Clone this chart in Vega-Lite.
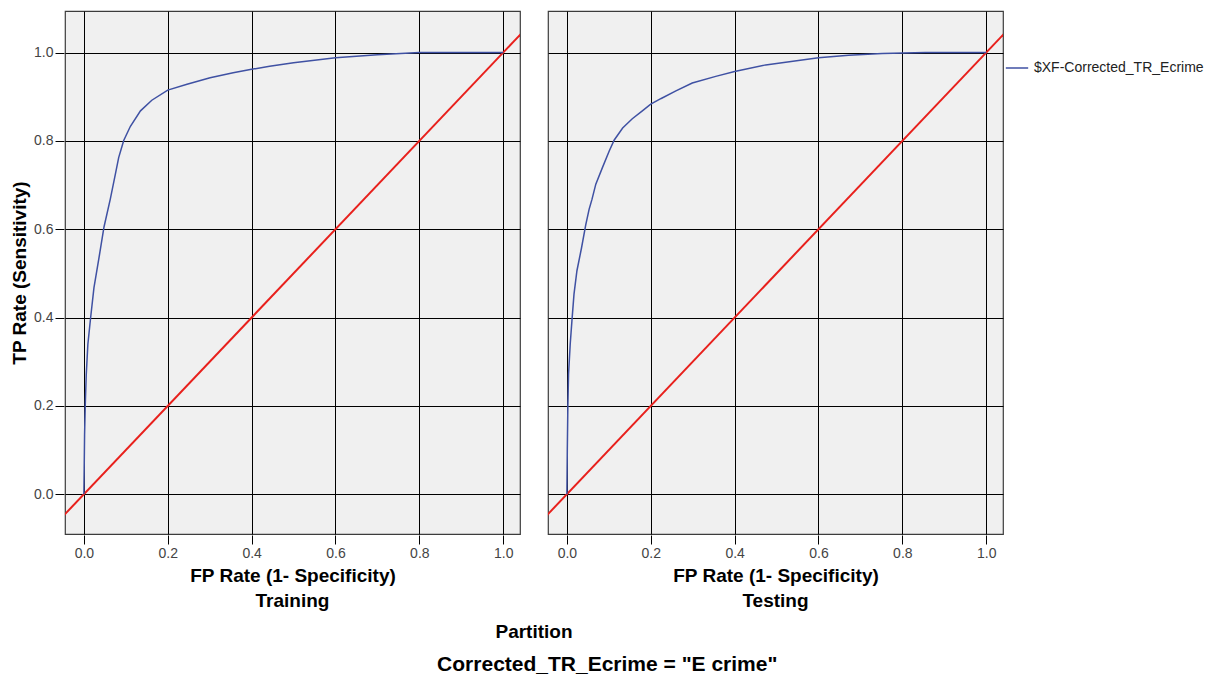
{
  "$schema": "https://vega.github.io/schema/vega-lite/v6.json",
  "padding": {"left": 10, "top": 10, "right": 5, "bottom": 5},
  "background": "white",
  "config": {
    "font": "Liberation Sans",
    "view": {"fill": "#f0f0f0", "stroke": "#3c3c3c", "strokeWidth": 1.2},
    "axis": {
      "labelFont": "Liberation Sans", "labelFontSize": 14, "labelColor": "#444444",
      "titleFont": "Liberation Sans", "titleFontSize": 19, "titleFontWeight": "bold", "titleColor": "#000000",
      "gridColor": "#000000", "gridOpacity": 1, "gridWidth": 1,
      "tickColor": "#000000", "tickSize": 9, "tickWidth": 1,
      "domain": false, "labelPadding": 2
    },
    "header": {
      "labelFont": "Liberation Sans", "labelFontSize": 19, "labelFontWeight": "bold", "labelColor": "#000000",
      "titleFont": "Liberation Sans", "titleFontSize": 19, "titleFontWeight": "bold", "titleColor": "#000000"
    },
    "legend": {"labelFont": "Liberation Sans", "labelFontSize": 14, "labelColor": "#222222", "labelLimit": 0}
  },
  "title": {
    "text": "Corrected_TR_Ecrime = \"E crime\"",
    "orient": "bottom", "anchor": "middle",
    "font": "Liberation Sans", "fontSize": 21, "fontWeight": "bold", "color": "#000000", "offset": 12
  },
  "data": {
    "values": [
      {"partition": "Training", "kind": "roc", "series": "$XF-Corrected_TR_Ecrime", "fpr": 0, "tpr": 0},
      {"partition": "Training", "kind": "roc", "series": "$XF-Corrected_TR_Ecrime", "fpr": 0.0008, "tpr": 0.06},
      {"partition": "Training", "kind": "roc", "series": "$XF-Corrected_TR_Ecrime", "fpr": 0.0017, "tpr": 0.136},
      {"partition": "Training", "kind": "roc", "series": "$XF-Corrected_TR_Ecrime", "fpr": 0.0033, "tpr": 0.201},
      {"partition": "Training", "kind": "roc", "series": "$XF-Corrected_TR_Ecrime", "fpr": 0.0057, "tpr": 0.271},
      {"partition": "Training", "kind": "roc", "series": "$XF-Corrected_TR_Ecrime", "fpr": 0.0095, "tpr": 0.339},
      {"partition": "Training", "kind": "roc", "series": "$XF-Corrected_TR_Ecrime", "fpr": 0.016, "tpr": 0.399},
      {"partition": "Training", "kind": "roc", "series": "$XF-Corrected_TR_Ecrime", "fpr": 0.024, "tpr": 0.467},
      {"partition": "Training", "kind": "roc", "series": "$XF-Corrected_TR_Ecrime", "fpr": 0.036, "tpr": 0.535},
      {"partition": "Training", "kind": "roc", "series": "$XF-Corrected_TR_Ecrime", "fpr": 0.048, "tpr": 0.605},
      {"partition": "Training", "kind": "roc", "series": "$XF-Corrected_TR_Ecrime", "fpr": 0.063, "tpr": 0.668},
      {"partition": "Training", "kind": "roc", "series": "$XF-Corrected_TR_Ecrime", "fpr": 0.075, "tpr": 0.724},
      {"partition": "Training", "kind": "roc", "series": "$XF-Corrected_TR_Ecrime", "fpr": 0.083, "tpr": 0.762},
      {"partition": "Training", "kind": "roc", "series": "$XF-Corrected_TR_Ecrime", "fpr": 0.095, "tpr": 0.801},
      {"partition": "Training", "kind": "roc", "series": "$XF-Corrected_TR_Ecrime", "fpr": 0.111, "tpr": 0.833},
      {"partition": "Training", "kind": "roc", "series": "$XF-Corrected_TR_Ecrime", "fpr": 0.135, "tpr": 0.868},
      {"partition": "Training", "kind": "roc", "series": "$XF-Corrected_TR_Ecrime", "fpr": 0.162, "tpr": 0.892},
      {"partition": "Training", "kind": "roc", "series": "$XF-Corrected_TR_Ecrime", "fpr": 0.2, "tpr": 0.915},
      {"partition": "Training", "kind": "roc", "series": "$XF-Corrected_TR_Ecrime", "fpr": 0.246, "tpr": 0.928},
      {"partition": "Training", "kind": "roc", "series": "$XF-Corrected_TR_Ecrime", "fpr": 0.301, "tpr": 0.943},
      {"partition": "Training", "kind": "roc", "series": "$XF-Corrected_TR_Ecrime", "fpr": 0.356, "tpr": 0.954},
      {"partition": "Training", "kind": "roc", "series": "$XF-Corrected_TR_Ecrime", "fpr": 0.4, "tpr": 0.962},
      {"partition": "Training", "kind": "roc", "series": "$XF-Corrected_TR_Ecrime", "fpr": 0.443, "tpr": 0.969},
      {"partition": "Training", "kind": "roc", "series": "$XF-Corrected_TR_Ecrime", "fpr": 0.5, "tpr": 0.977},
      {"partition": "Training", "kind": "roc", "series": "$XF-Corrected_TR_Ecrime", "fpr": 0.6, "tpr": 0.988},
      {"partition": "Training", "kind": "roc", "series": "$XF-Corrected_TR_Ecrime", "fpr": 0.7, "tpr": 0.995},
      {"partition": "Training", "kind": "roc", "series": "$XF-Corrected_TR_Ecrime", "fpr": 0.8, "tpr": 1.0},
      {"partition": "Training", "kind": "roc", "series": "$XF-Corrected_TR_Ecrime", "fpr": 1.0, "tpr": 1.0},
      {"partition": "Testing", "kind": "roc", "series": "$XF-Corrected_TR_Ecrime", "fpr": 0, "tpr": 0},
      {"partition": "Testing", "kind": "roc", "series": "$XF-Corrected_TR_Ecrime", "fpr": 0.001, "tpr": 0.098},
      {"partition": "Testing", "kind": "roc", "series": "$XF-Corrected_TR_Ecrime", "fpr": 0.0024, "tpr": 0.201},
      {"partition": "Testing", "kind": "roc", "series": "$XF-Corrected_TR_Ecrime", "fpr": 0.004, "tpr": 0.272},
      {"partition": "Testing", "kind": "roc", "series": "$XF-Corrected_TR_Ecrime", "fpr": 0.008, "tpr": 0.34},
      {"partition": "Testing", "kind": "roc", "series": "$XF-Corrected_TR_Ecrime", "fpr": 0.012, "tpr": 0.392},
      {"partition": "Testing", "kind": "roc", "series": "$XF-Corrected_TR_Ecrime", "fpr": 0.017, "tpr": 0.453},
      {"partition": "Testing", "kind": "roc", "series": "$XF-Corrected_TR_Ecrime", "fpr": 0.024, "tpr": 0.506},
      {"partition": "Testing", "kind": "roc", "series": "$XF-Corrected_TR_Ecrime", "fpr": 0.035, "tpr": 0.558},
      {"partition": "Testing", "kind": "roc", "series": "$XF-Corrected_TR_Ecrime", "fpr": 0.045, "tpr": 0.61},
      {"partition": "Testing", "kind": "roc", "series": "$XF-Corrected_TR_Ecrime", "fpr": 0.053, "tpr": 0.645},
      {"partition": "Testing", "kind": "roc", "series": "$XF-Corrected_TR_Ecrime", "fpr": 0.06, "tpr": 0.668},
      {"partition": "Testing", "kind": "roc", "series": "$XF-Corrected_TR_Ecrime", "fpr": 0.069, "tpr": 0.702},
      {"partition": "Testing", "kind": "roc", "series": "$XF-Corrected_TR_Ecrime", "fpr": 0.085, "tpr": 0.74},
      {"partition": "Testing", "kind": "roc", "series": "$XF-Corrected_TR_Ecrime", "fpr": 0.101, "tpr": 0.777},
      {"partition": "Testing", "kind": "roc", "series": "$XF-Corrected_TR_Ecrime", "fpr": 0.113, "tpr": 0.802},
      {"partition": "Testing", "kind": "roc", "series": "$XF-Corrected_TR_Ecrime", "fpr": 0.133, "tpr": 0.829},
      {"partition": "Testing", "kind": "roc", "series": "$XF-Corrected_TR_Ecrime", "fpr": 0.156, "tpr": 0.85},
      {"partition": "Testing", "kind": "roc", "series": "$XF-Corrected_TR_Ecrime", "fpr": 0.18, "tpr": 0.868},
      {"partition": "Testing", "kind": "roc", "series": "$XF-Corrected_TR_Ecrime", "fpr": 0.2, "tpr": 0.883},
      {"partition": "Testing", "kind": "roc", "series": "$XF-Corrected_TR_Ecrime", "fpr": 0.225, "tpr": 0.896},
      {"partition": "Testing", "kind": "roc", "series": "$XF-Corrected_TR_Ecrime", "fpr": 0.26, "tpr": 0.913},
      {"partition": "Testing", "kind": "roc", "series": "$XF-Corrected_TR_Ecrime", "fpr": 0.299, "tpr": 0.931},
      {"partition": "Testing", "kind": "roc", "series": "$XF-Corrected_TR_Ecrime", "fpr": 0.355, "tpr": 0.946},
      {"partition": "Testing", "kind": "roc", "series": "$XF-Corrected_TR_Ecrime", "fpr": 0.4, "tpr": 0.957},
      {"partition": "Testing", "kind": "roc", "series": "$XF-Corrected_TR_Ecrime", "fpr": 0.474, "tpr": 0.972},
      {"partition": "Testing", "kind": "roc", "series": "$XF-Corrected_TR_Ecrime", "fpr": 0.6, "tpr": 0.988},
      {"partition": "Testing", "kind": "roc", "series": "$XF-Corrected_TR_Ecrime", "fpr": 0.672, "tpr": 0.994},
      {"partition": "Testing", "kind": "roc", "series": "$XF-Corrected_TR_Ecrime", "fpr": 0.752, "tpr": 0.998},
      {"partition": "Testing", "kind": "roc", "series": "$XF-Corrected_TR_Ecrime", "fpr": 0.855, "tpr": 1.0},
      {"partition": "Testing", "kind": "roc", "series": "$XF-Corrected_TR_Ecrime", "fpr": 1.0, "tpr": 1.0},
      {"partition": "Training", "kind": "ref", "series": "reference", "fpr": -0.1, "tpr": -0.1},
      {"partition": "Training", "kind": "ref", "series": "reference", "fpr": 1.1, "tpr": 1.1},
      {"partition": "Testing", "kind": "ref", "series": "reference", "fpr": -0.1, "tpr": -0.1},
      {"partition": "Testing", "kind": "ref", "series": "reference", "fpr": 1.1, "tpr": 1.1}
    ]
  },
  "facet": {
    "column": {
      "field": "partition", "type": "nominal", "sort": ["Training", "Testing"],
      "title": "Partition",
      "header": {"labelOrient": "bottom", "titleOrient": "bottom", "labelPadding": 7, "titlePadding": 2}
    }
  },
  "spacing": {"column": 26},
  "spec": {
    "width": 455,
    "height": 523,
    "encoding": {
      "x": {
        "field": "fpr", "type": "quantitative", "title": "FP Rate (1- Specificity)",
        "scale": {"domain": [-0.045, 1.04], "nice": false, "zero": false},
        "axis": {"values": [0, 0.2, 0.4, 0.6, 0.8, 1.0], "format": ".1f", "titlePadding": 6}
      },
      "y": {
        "field": "tpr", "type": "quantitative", "title": "TP Rate (Sensitivity)",
        "scale": {"domain": [-0.09, 1.094], "nice": false, "zero": false},
        "axis": {"values": [0, 0.2, 0.4, 0.6, 0.8, 1.0], "format": ".1f", "titlePadding": 4}
      }
    },
    "layer": [
      {
        "transform": [{"filter": "datum.kind === 'ref'"}],
        "mark": {"type": "line", "color": "#e8201c", "strokeWidth": 2, "clip": true},
        "encoding": {"detail": {"field": "series", "type": "nominal"}}
      },
      {
        "transform": [{"filter": "datum.kind === 'roc'"}],
        "mark": {"type": "line", "strokeWidth": 1.5, "clip": true, "interpolate": "linear"},
        "encoding": {
          "color": {
            "field": "series", "type": "nominal",
            "scale": {"range": ["#3f51a3"]},
            "legend": {"title": null, "orient": "none", "legendX": 940, "legendY": 45, "symbolType": "stroke", "symbolSize": 500, "symbolStrokeWidth": 1.5, "labelOffset": 5, "labelLimit": 0}
          }
        }
      }
    ]
  }
}
